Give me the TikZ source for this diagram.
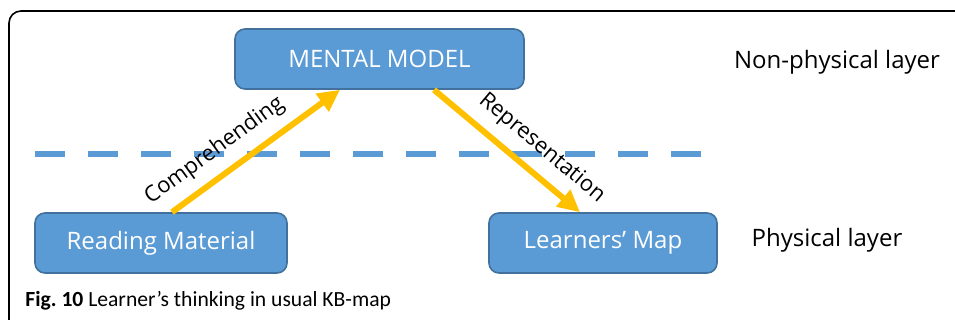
\documentclass[tikz,border=0pt]{standalone}
\usepackage{fontspec}
\setmainfont{Open Sans}
\newfontfamily\capfont{Carlito}
\usetikzlibrary{arrows.meta,positioning}
\definecolor{boxblue}{HTML}{5B9BD5}
\definecolor{boxedge}{HTML}{41719C}
\definecolor{arrowgold}{HTML}{FFC000}
\definecolor{layerline}{HTML}{5B9BD5}

\begin{document}
\begin{tikzpicture}[x=0.5pt,y=-0.5pt,
  box/.style={draw=boxedge,line width=0.8pt,fill=boxblue,rounded corners=5pt,text=white,minimum height=30pt,inner sep=0pt,font=\fontsize{12}{14}\selectfont},
  flow/.style={arrowgold,line width=3pt,-{Triangle[length=11pt,width=10.5pt]}},
  lbl/.style={font=\fontsize{12}{14}\selectfont},
  flowlbl/.style={font=\fontsize{11}{13}\selectfont,sloped,text=black},
]
  \useasboundingbox (0,0) rectangle (955,320);
  % outer frame, runs past the right and bottom edges
  \draw[line width=0.8pt,rounded corners=6pt] (9,11) rectangle (980,340);

  % layer boundary
  \draw[layerline,line width=3pt,dash pattern=on 15pt off 11.5pt] (35,154) -- (723,154);

  \node[box,minimum width=144.5pt] (mental) at (379.5,59) {MENTAL MODEL};
  \node[box,minimum width=126pt] (reading) at (161,243) {Reading Material};
  \node[box,minimum width=114pt] (learners) at (603,243) {Learners’ Map};

  \node[lbl] (nonphys) at (837,62) {Non-physical layer};
  \node[lbl] (phys) at (827,240) {Physical layer};

  \draw[flow] ([xshift=5.5pt]reading.north) -- node[flowlbl,pos=0.34,above=2pt] (comp) {Comprehending} ([xshift=-19.75pt]mental.south);
  \draw[flow] ([xshift=27.25pt]mental.south) -- node[flowlbl,pos=0.63,above=2pt] (repr) {Representation} ([xshift=-11.5pt]learners.north);

  \node[anchor=base west,inner sep=0pt,font=\capfont\fontsize{10.8}{13}\selectfont] (caption) at (25,306.5) {\textbf{Fig.\ 10} Learner’s thinking in usual KB-map};
\end{tikzpicture}
\end{document}
